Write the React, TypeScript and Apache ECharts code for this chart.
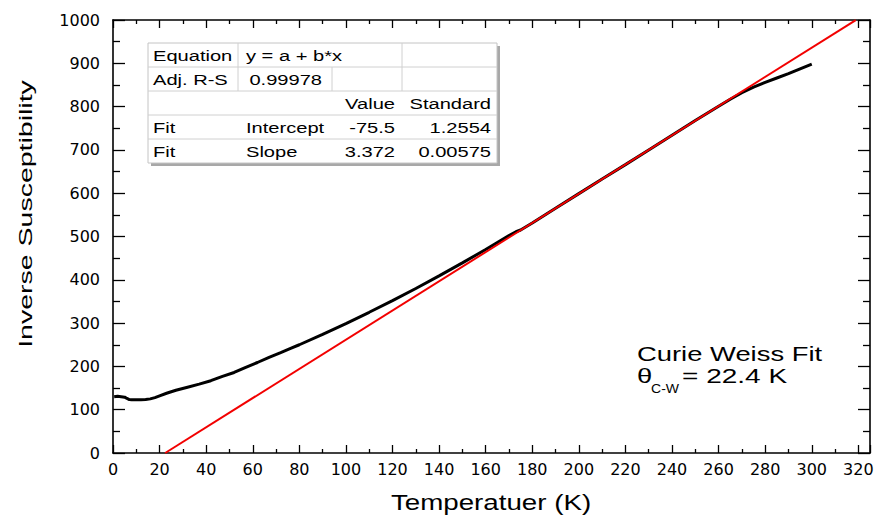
import React, { useEffect, useRef } from 'react';
import * as echarts from 'echarts';

const temperature = [
  0.5, 2, 3.5, 5, 6, 7, 8, 10, 12, 14, 16, 18, 20, 23, 27, 32, 37, 42, 47, 52, 57, 62, 67, 72, 76,
  80, 90, 100, 110, 120, 130, 140, 150, 160, 165, 170, 173, 175, 180, 190, 200, 210, 220, 230, 240,
  250, 260, 265, 270, 275, 280, 285, 290, 295, 300,
];
const inverseSusceptibility = [
  130, 131, 130, 129, 126, 123.5, 123, 123, 123, 123.5, 125, 128, 132, 138, 145, 152, 159, 167, 177,
  186, 198, 209, 221, 232, 241, 250, 274, 299, 325, 352, 380, 409, 439, 470, 486, 502, 511, 515, 531,
  565, 599, 633, 666, 700, 734, 768, 801, 817, 832, 845, 856, 866, 876, 887, 898,
];

// ---- linear fit (from the fit table) ----
const fitIntercept = -75.5;
const fitSlope = 3.372;
const fitTemperature = [22.4, 318.9];
const fitValues = fitTemperature.map((t) => fitIntercept + fitSlope * t);

// ---- fit table text ----
const tableRow1 = ['Equation', 'y = a + b*x', '', ''];
const tableRow2 = ['Adj. R-S', '0.99978', '', ''];
const tableRow3 = ['', '', 'Value', 'Standard'];
const tableRow4 = ['Fit', 'Intercept', '-75.5', '1.2554'];
const tableRow5 = ['Fit', 'Slope', '3.372', '0.00575'];
const tableRows = [tableRow1, tableRow2, tableRow3, tableRow4, tableRow5];

const xTitle = 'Temperatuer (K)';
const yTitle = 'Inverse Susceptibility';
const noteLine1 = 'Curie Weiss Fit';

const FONT = 'Liberation Sans, Arial, sans-serif';

function buildTable(): any[] {
  const left = 148;
  const top = 43;
  const rowH = 24;
  const width = 349;
  const height = rowH * tableRows.length;
  const els: any[] = [];
  els.push({ type: 'rect', shape: { x: left + 3, y: top + 3, width, height }, style: { fill: '#a8a8a8' }, z: 10 });
  els.push({ type: 'rect', shape: { x: left, y: top, width, height }, style: { fill: '#fff', stroke: '#c4c4c4', lineWidth: 1 }, z: 11 });
  for (let i = 1; i < tableRows.length; i++) {
    els.push({ type: 'line', shape: { x1: left, y1: top + i * rowH, x2: left + width, y2: top + i * rowH }, style: { stroke: '#d0d0d0', lineWidth: 1 }, z: 12 });
  }
  els.push({ type: 'line', shape: { x1: 238, y1: top, x2: 238, y2: top + 2 * rowH }, style: { stroke: '#d0d0d0', lineWidth: 1 }, z: 12 });
  els.push({ type: 'line', shape: { x1: 332, y1: top + rowH, x2: 332, y2: top + 2 * rowH }, style: { stroke: '#d0d0d0', lineWidth: 1 }, z: 12 });
  els.push({ type: 'line', shape: { x1: 402, y1: top, x2: 402, y2: top + 2 * rowH }, style: { stroke: '#d0d0d0', lineWidth: 1 }, z: 12 });
  tableRows.forEach((row, r) => {
    const cy = top + r * rowH + rowH / 2 + 0.5;
    row.forEach((txt, c) => {
      if (!txt) return;
      let x = 153;
      let align = 'left';
      if (c === 1) {
        if (r === 1) { x = 322; align = 'right'; } else { x = 246; }
      } else if (c === 2) { x = 395; align = 'right'; }
      else if (c === 3) { x = 491; align = 'right'; }
      els.push({
        type: 'text', x, y: cy, scaleX: 1.34, z: 13,
        style: { text: txt, fill: '#000', font: `15px ${FONT}`, align, verticalAlign: 'middle' },
      });
    });
  });
  return els;
}

export default function App() {
  const ref = useRef<HTMLDivElement>(null);
  useEffect(() => {
    const chart = echarts.init(ref.current!, null, { renderer: 'svg' });
    const axisLine = { show: true, onZero: false, lineStyle: { color: '#000', width: 1.6 } };
    const xCommon = {
      type: 'value', min: 0, max: 325, interval: 20,
      axisLine,
      axisTick: { show: true, inside: true, length: 8, lineStyle: { color: '#000', width: 1.3 } },
      minorTick: { show: true, splitNumber: 2, length: 4, lineStyle: { color: '#000', width: 1.3 } },
      splitLine: { show: false },
    };
    const yCommon = {
      type: 'value', min: 0, max: 1000, interval: 100,
      axisLine,
      axisTick: { show: true, inside: true, length: 12, lineStyle: { color: '#000', width: 1.3 } },
      minorTick: { show: true, splitNumber: 2, length: 7, lineStyle: { color: '#000', width: 1.3 } },
      splitLine: { show: false },
    };
    const plain = (v: number) => String(v);
    chart.setOption({
      animation: false,
      backgroundColor: '#fff',
      grid: { left: 113, right: 9, top: 20, bottom: 65 },
      xAxis: [
        { ...xCommon, position: 'bottom', axisLabel: { show: true, showMaxLabel: false, formatter: plain, color: '#000', fontFamily: 'DejaVu Sans', fontSize: 16, margin: 8 } },
        { ...xCommon, position: 'top', axisLabel: { show: false } },
      ],
      yAxis: [
        { ...yCommon, position: 'left', axisLabel: { show: true, formatter: plain, color: '#000', fontFamily: 'DejaVu Sans', fontSize: 16, margin: 13 } },
        { ...yCommon, position: 'right', axisLabel: { show: false } },
      ],
      series: [
        {
          name: 'Inverse Susceptibility', type: 'line', xAxisIndex: 0, yAxisIndex: 0,
          data: temperature.map((t, i) => [t, inverseSusceptibility[i]]),
          showSymbol: false, lineStyle: { color: '#000', width: 3 }, z: 2,
        },
        {
          name: 'Linear Fit', type: 'line', xAxisIndex: 0, yAxisIndex: 0,
          data: fitTemperature.map((t, i) => [t, fitValues[i]]),
          showSymbol: false, lineStyle: { color: '#f20000', width: 2 }, z: 3,
        },
      ],
      graphic: [
        ...buildTable(),
        {
          type: 'text', x: 25, y: 214, rotation: Math.PI / 2, scaleX: 1.5,
          style: { text: yTitle, fill: '#000', font: `19px ${FONT}`, align: 'center', verticalAlign: 'middle' },
        },
        {
          type: 'text', x: 491, y: 502, scaleX: 1.26,
          style: { text: xTitle, fill: '#000', font: `22px ${FONT}`, align: 'center', verticalAlign: 'middle' },
        },
        {
          type: 'text', x: 637, y: 354, scaleX: 1.37,
          style: { text: noteLine1, fill: '#000', font: `20px ${FONT}`, align: 'left', verticalAlign: 'middle' },
        },
        {
          type: 'text', x: 637, y: 376, scaleX: 1.37,
          style: { text: 'θ', fill: '#000', font: `20px ${FONT}`, align: 'left', verticalAlign: 'middle' },
        },
        {
          type: 'text', x: 651, y: 389, scaleX: 1.08,
          style: { text: 'C-W', fill: '#000', font: `13px ${FONT}`, align: 'left', verticalAlign: 'middle' },
        },
        {
          type: 'text', x: 682, y: 376, scaleX: 1.4,
          style: { text: '= 22.4 K', fill: '#000', font: `20px ${FONT}`, align: 'left', verticalAlign: 'middle' },
        },
      ],
    });
    return () => chart.dispose();
  }, []);
  return <div ref={ref} style={{ position: 'absolute', left: 0, top: 0, width: 879, height: 518 }} />;
}
